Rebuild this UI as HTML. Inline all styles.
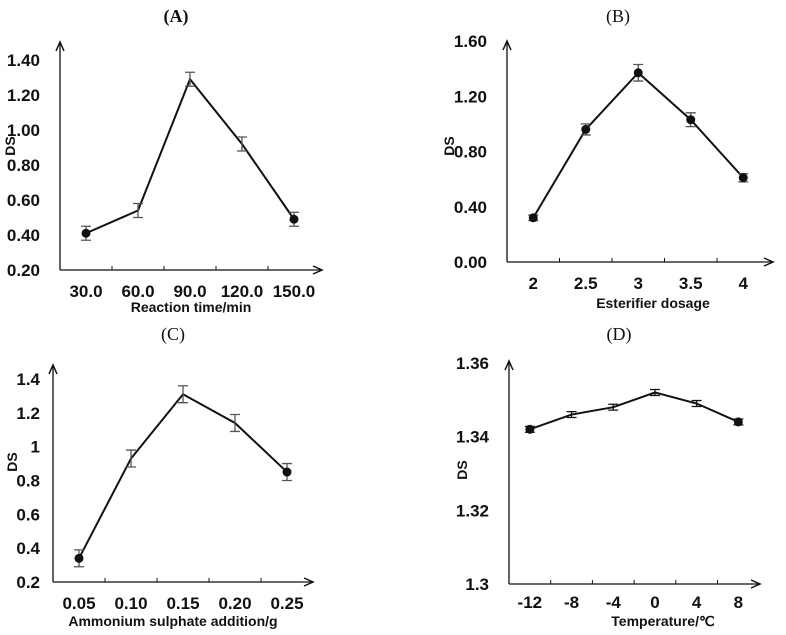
<!DOCTYPE html>
<html><head><meta charset="utf-8"><style>
html,body{margin:0;padding:0;background:#fff;}
svg{display:block;font-family:"Liberation Sans",Arial,sans-serif;}
.tk{font-size:17px;font-weight:bold;fill:#111;}
.ax{font-size:14px;font-weight:bold;fill:#111;}
.pt{font-family:"Liberation Serif",serif;font-size:18px;fill:#111;}
</style></head><body>
<svg id="fig" width="786" height="635" viewBox="0 0 786 635"></svg>
<script>
const catsA=["30.0","60.0","90.0","120.0","150.0"];
const valsA=[0.41,0.54,1.29,0.92,0.49];
const errA=[0.04,0.04,0.04,0.04,0.04];
const ticksA=["0.20","0.40","0.60","0.80","1.00","1.20","1.40"];
const catsB=["2","2.5","3","3.5","4"];
const valsB=[0.32,0.96,1.37,1.03,0.61];
const errB=[0.02,0.04,0.06,0.05,0.03];
const ticksB=["0.00","0.40","0.80","1.20","1.60"];
const catsC=["0.05","0.10","0.15","0.20","0.25"];
const valsC=[0.34,0.93,1.31,1.14,0.85];
const errC=[0.05,0.05,0.05,0.05,0.05];
const ticksC=["0.2","0.4","0.6","0.8","1","1.2","1.4"];
const catsD=["-12","-8","-4","0","4","8"];
const valsD=[1.342,1.346,1.348,1.352,1.349,1.344];
const errD=[0.0008,0.0008,0.0008,0.0008,0.0008,0.0008];
const ticksD=["1.3","1.32","1.34","1.36"];

const NS="http://www.w3.org/2000/svg";
const svg=document.getElementById('fig');
function mk(tag,attrs,parent,text){const e=document.createElementNS(NS,tag);for(const k in attrs)e.setAttribute(k,attrs[k]);if(text!==undefined)e.textContent=text;(parent||svg).appendChild(e);return e;}

function panel(p){
  const g=mk('g',{});
  
  
  const y=v=>p.y0-(v-p.ymin)/(p.ymax-p.ymin)*(p.y0-p.y1);
  const x=i=>p.x0+p.band*(i+0.5);
  const t=mk('text',{x:p.tx,y:p.ty,'text-anchor':'middle',class:'pt','font-weight':p.bold?'bold':'normal'},g,'('+p.id+')');
  
  
  const ya=mk('path',{d:`M${p.x0},${p.y0}V${p.yTop}`,stroke:'#111','stroke-width':1.3,fill:'none'},g);
  
  
  mk('path',{d:`M${p.x0-4},${p.yTop+9}L${p.x0},${p.yTop}L${p.x0+4},${p.yTop+9}`,stroke:'#111','stroke-width':1.5,fill:'none'},g);
  const xa=mk('path',{d:`M${p.x0},${p.y0}H${p.xEnd}`,stroke:'#111','stroke-width':1.3,fill:'none'},g);
  
  
  mk('path',{d:`M${p.xEnd-9},${p.y0-4}L${p.xEnd},${p.y0}L${p.xEnd-9},${p.y0+4}`,stroke:'#111','stroke-width':1.5,fill:'none'},g);
  p.ticks.forEach(s=>{
    const v=parseFloat(s);
    const l=mk('text',{x:p.x0-(p.lblGap||20),y:y(v)+6,'text-anchor':'end',class:'tk'},g,s);
    
    
  });
  p.cats.forEach((c,i)=>{
    if(i>0)mk('line',{x1:p.x0+p.band*i,x2:p.x0+p.band*i,y1:p.y0,y2:p.y0-4,stroke:'#111','stroke-width':1},g);
    const l=mk('text',{x:x(i),y:p.y0+(p.xoff||27),'text-anchor':'middle',class:'tk'},g,c);
    
    
  });
  const xt=mk('text',{x:p.xtx,y:p.xty,'text-anchor':'middle',class:'ax'},g,p.xtitle);
  
  
  const yt=mk('text',{x:0,y:0,'text-anchor':'middle',class:'ax',transform:`translate(${p.ytx},${p.yty}) rotate(-90)`},g,'DS');
  
  
  const d=p.vals.map((v,i)=>(i?'L':'M')+x(i)+','+y(v)).join('');
  const ln=mk('path',{d:d,stroke:'#111','stroke-width':2,fill:'none'},g);
  
  
  p.vals.forEach((v,i)=>{
    const e=p.err[i],a=y(v+e),b=y(v-e),cx=x(i);
    const eb=mk('path',{d:`M${cx},${a}V${b}M${cx-5},${a}H${cx+5}M${cx-5},${b}H${cx+5}`,stroke:p.errColor,'stroke-width':1.3,fill:'none'},g);
    
    
    if(p.dots==='all'||i===0||i===p.vals.length-1){
      const m=mk('circle',{cx:cx,cy:y(v),r:4.5,fill:'#111'},g);
      
      
    }
  });
}
panel({id:'A',bold:true,tx:176,ty:22,x0:60,y0:270,y1:60,yTop:42,xEnd:322,band:52,ymin:0.2,ymax:1.4,ticks:ticksA,cats:catsA,vals:valsA,err:errA,xtitle:'Reaction time/min',xtx:191,xty:312,ytx:15,yty:146,errColor:'#555',dots:'ends'});
panel({id:'B',tx:618,ty:22,x0:507,y0:262,y1:41,yTop:41,xEnd:773,band:52.5,ymin:0,ymax:1.6,ticks:ticksB,cats:catsB,vals:valsB,err:errB,xtitle:'Esterifier dosage',xtx:653,xty:308,ytx:454,yty:146,errColor:'#555',dots:'all'});
panel({id:'C',tx:173,ty:340,x0:53,y0:582,y1:379,yTop:365,xEnd:313,band:52,ymin:0.2,ymax:1.4,ticks:ticksC,cats:catsC,vals:valsC,err:errC,xtitle:'Ammonium sulphate addition/g',xtx:173,xty:626,ytx:17,yty:462,errColor:'#555',dots:'ends',lblGap:13});
panel({id:'D',tx:619,ty:340,x0:509,y0:584,y1:363,yTop:361,xEnd:760,band:41.7,ymin:1.30,ymax:1.36,ticks:ticksD,cats:catsD,vals:valsD,err:errD,xtitle:'Temperature/℃',xtx:663,xty:626,ytx:467,yty:470,errColor:'#111',dots:'ends',lblGap:20,xoff:24});
</script>
</body></html>
